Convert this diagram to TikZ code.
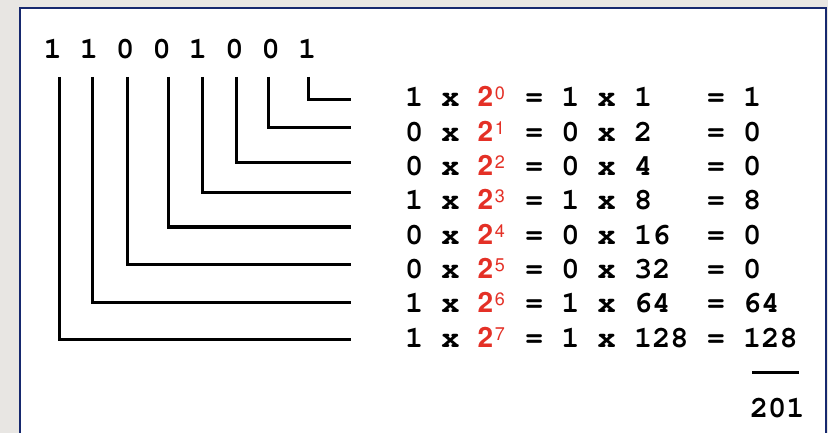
\documentclass[tikz,border=0pt]{standalone}
\usepackage[T1]{fontenc}
\definecolor{bggrey}{RGB}{232,230,227}
\definecolor{framenavy}{RGB}{22,40,110}
\definecolor{myred}{RGB}{228,48,38}
\newcommand\crb{\fontfamily{pcr}\fontseries{b}\fontshape{n}\fontsize{30.3}{36}\selectfont}
\newcommand\hvb{\fontfamily{phv}\fontseries{b}\fontshape{n}\fontsize{28}{32}\selectfont}
\newcommand\hvs{\fontfamily{phv}\fontseries{m}\fontshape{n}\fontsize{18}{20}\selectfont}
\newcommand\pw[1]{{\color{myred}\hvb 2}\kern1.5pt\raisebox{7pt}{\color{myred}\hvs #1}}
\tikzset{
  txt/.style={inner sep=0pt, outer sep=0pt, anchor=base west, font=\crb},
  bracket/.style={draw=black, line width=3pt, line cap=butt, line join=miter},
}
\begin{document}
\begin{tikzpicture}[x=1pt,y=-1pt]
\useasboundingbox (0,0) rectangle (828,433);
\fill[bggrey] (0,0) rectangle (828,433);
\begin{scope}
\clip (0,0) rectangle (828,433);
\draw[framenavy, line width=2.5pt, fill=white] (20,8) rectangle (826,460);
\end{scope}
% binary number
\node[txt] (bits) at (43.5,59) {1~1~0~0~1~0~0~1};
% bracket end points
\coordinate (t0) at (308,77);  \coordinate (e0) at (351,100);
\coordinate (t1) at (268,77);  \coordinate (e1) at (351,128);
\coordinate (t2) at (236,77);  \coordinate (e2) at (351,163);
\coordinate (t3) at (202,77);  \coordinate (e3) at (351,193);
\coordinate (t4) at (168,77);  \coordinate (e4) at (351,227);
\coordinate (t5) at (127,77);  \coordinate (e5) at (351,264);
\coordinate (t6) at (92,77);   \coordinate (e6) at (351,302);
\coordinate (t7) at (59,77);   \coordinate (e7) at (351,339);
\foreach \i in {0,...,7} {\draw[bracket] (t\i) |- (e\i);}
% rows
\node[txt] (l0) at (405,107.0) {1~x~\pw{0}};
\node[txt] (r0) at (525,107.0) {=~1~x~1~~~=~1};
\node[txt] (l1) at (405,141.3) {0~x~\pw{1}};
\node[txt] (r1) at (525,141.3) {=~0~x~2~~~=~0};
\node[txt] (l2) at (405,175.6) {0~x~\pw{2}};
\node[txt] (r2) at (525,175.6) {=~0~x~4~~~=~0};
\node[txt] (l3) at (405,209.9) {1~x~\pw{3}};
\node[txt] (r3) at (525,209.9) {=~1~x~8~~~=~8};
\node[txt] (l4) at (405,244.2) {0~x~\pw{4}};
\node[txt] (r4) at (525,244.2) {=~0~x~16~~=~0};
\node[txt] (l5) at (405,278.5) {0~x~\pw{5}};
\node[txt] (r5) at (525,278.5) {=~0~x~32~~=~0};
\node[txt] (l6) at (405,312.8) {1~x~\pw{6}};
\node[txt] (r6) at (525,312.8) {=~1~x~64~~=~64};
\node[txt] (l7) at (405,347.1) {1~x~\pw{7}};
\node[txt] (r7) at (525,347.1) {=~1~x~128~=~128};
% sum
\coordinate (s1) at (752,372);
\coordinate (s2) at (799,372);
\draw[bracket] (s1) -- (s2);
\node[txt] (sum) at (750,417) {201};
\end{tikzpicture}
\end{document}
